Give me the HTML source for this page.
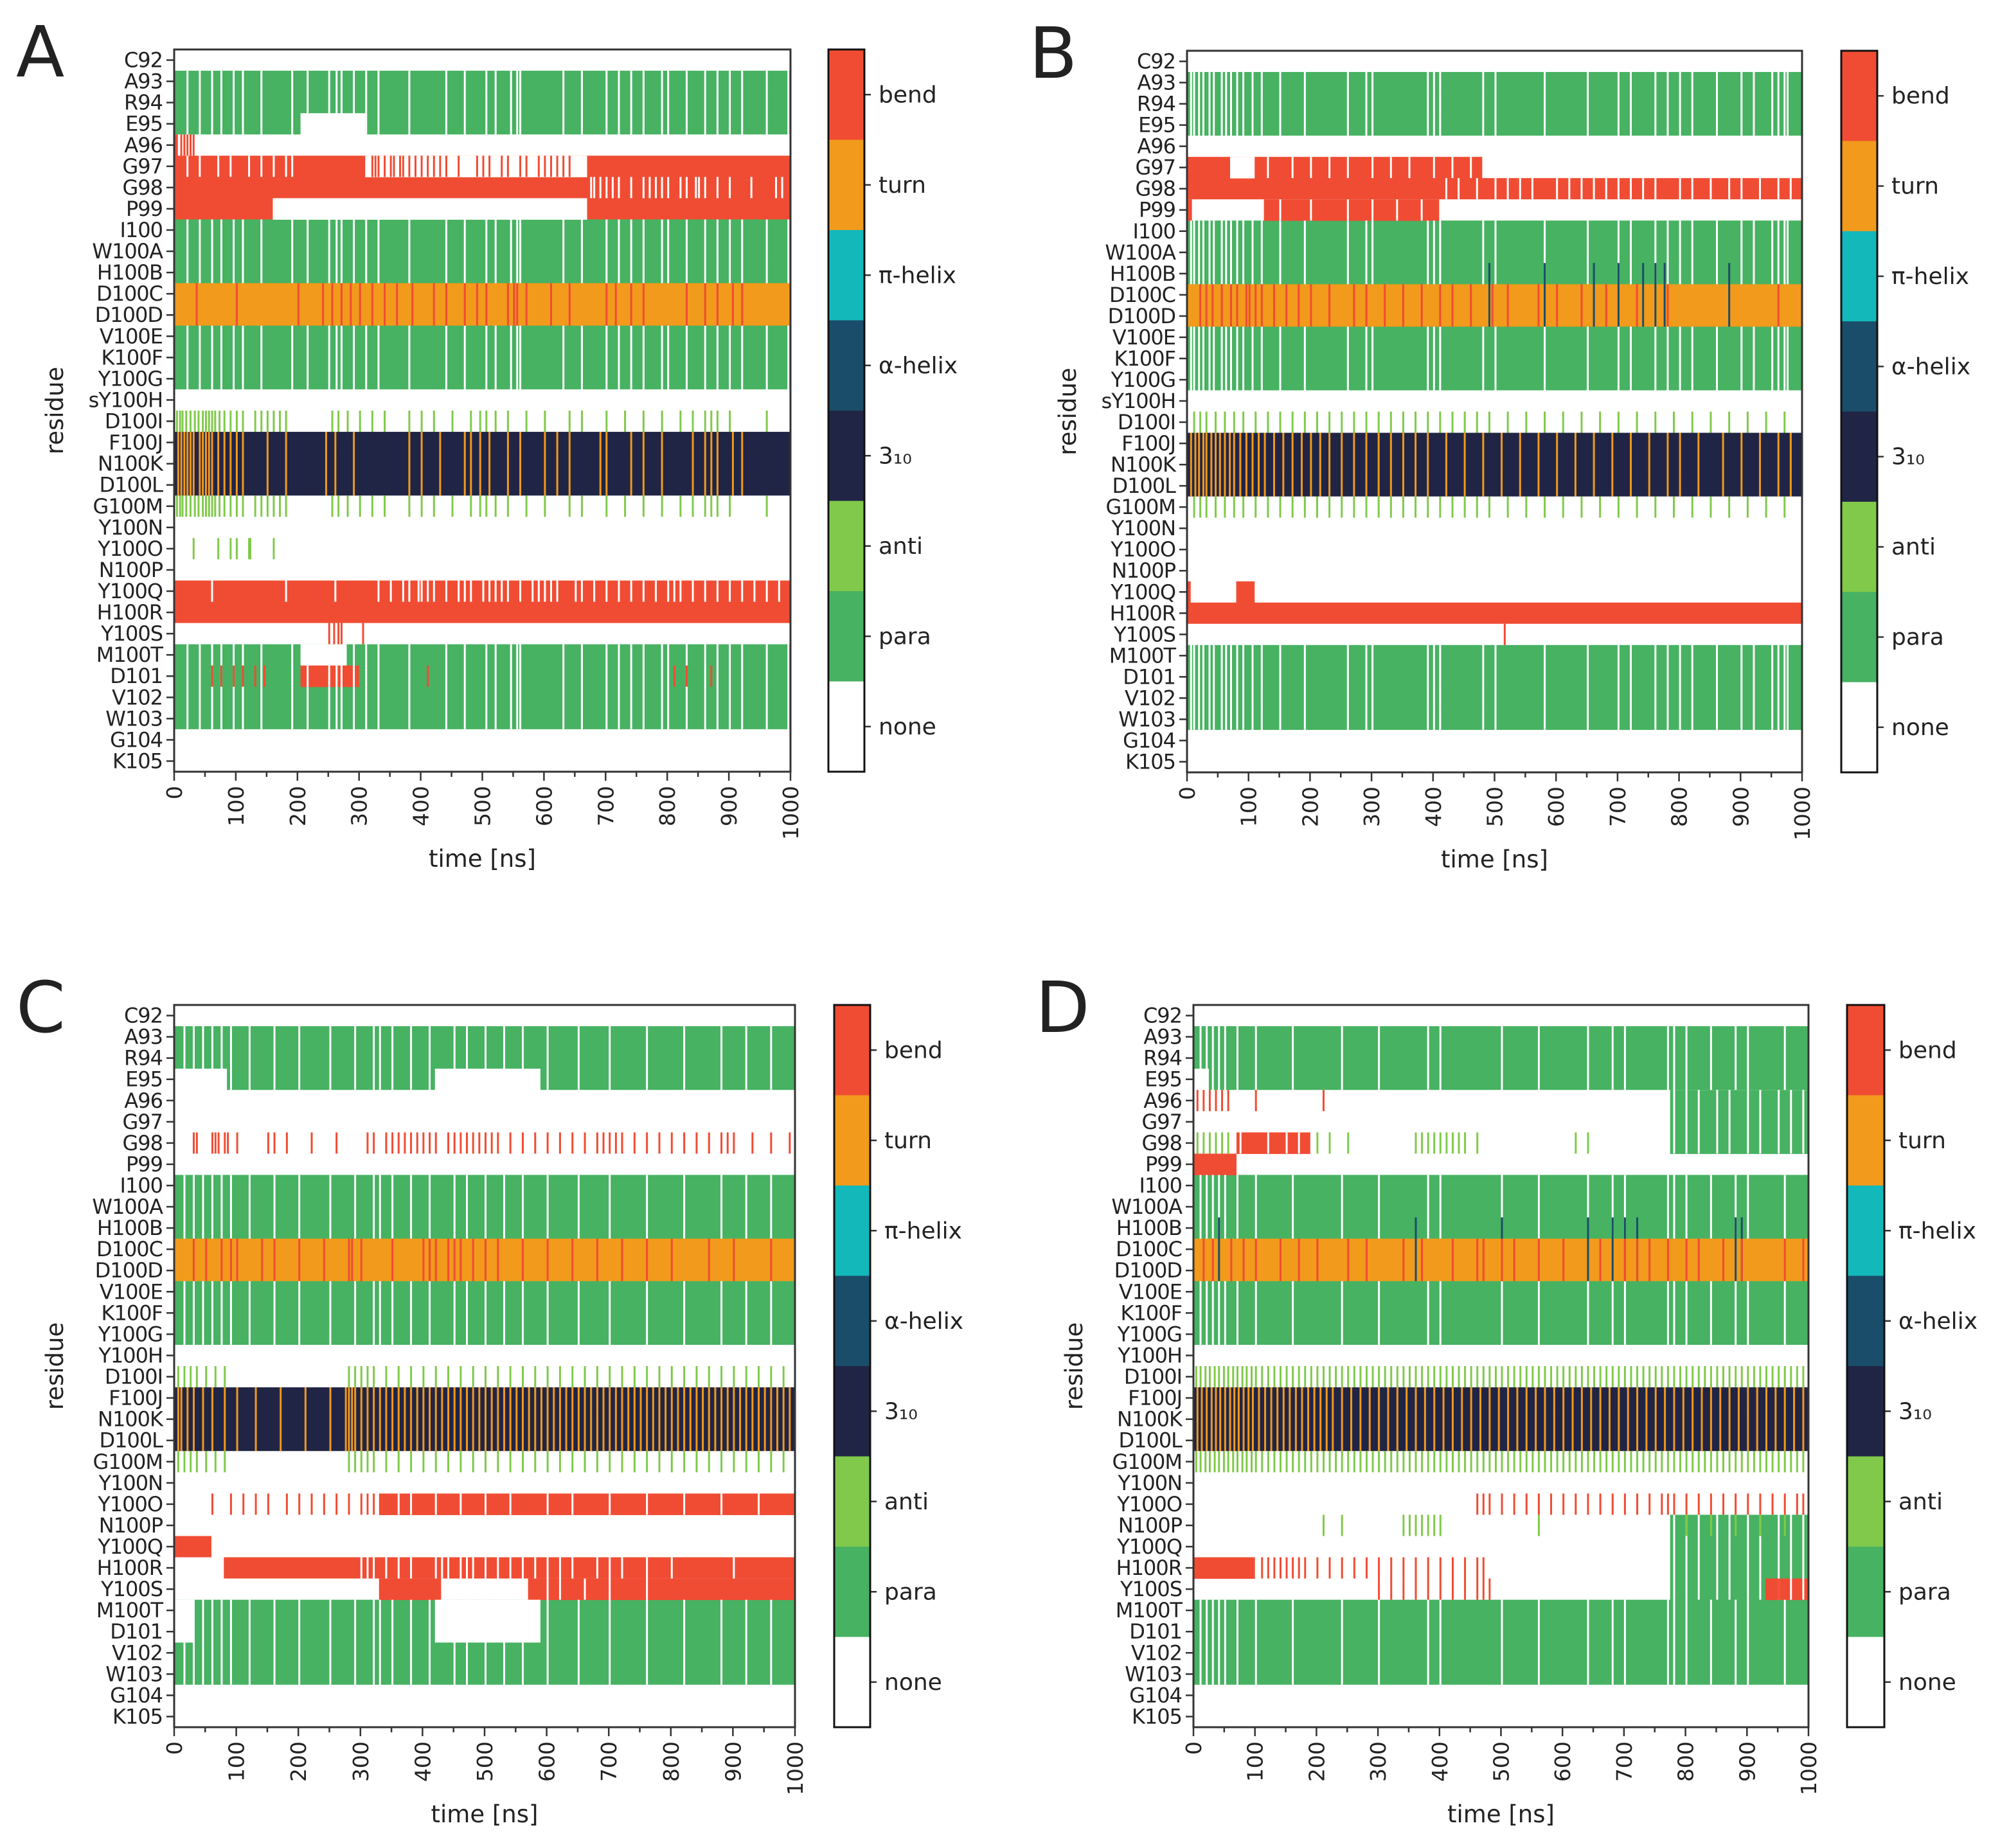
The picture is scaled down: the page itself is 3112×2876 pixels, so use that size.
<!DOCTYPE html>
<html><head><meta charset="utf-8"><style>
html,body{margin:0;padding:0;background:#fff;}
svg{display:block;font-family:"DejaVu Sans","Liberation Sans",sans-serif;}
</style></head><body>
<svg id="fig" width="3112" height="2876" viewBox="0 0 3112 2876" xmlns="http://www.w3.org/2000/svg"></svg>
<script>
// state codes: 0 none,1 para,2 anti,3 3_10,4 alpha,5 pi,6 turn,7 bend
const stateColors=["#ffffff","#47b262","#80c94a","#212545","#1a4d69","#13b8bb","#f19a1c","#f04c33"];
const legendLabels=["bend","turn","\u03c0-helix","\u03b1-helix","3\u2081\u2080","anti","para","none"];
const xTicks=[0,100,200,300,400,500,600,700,800,900,1000];
const residuesAB=["C92","A93","R94","E95","A96","G97","G98","P99","I100","W100A","H100B","D100C","D100D","V100E","K100F","Y100G","sY100H","D100I","F100J","N100K","D100L","G100M","Y100N","Y100O","N100P","Y100Q","H100R","Y100S","M100T","D101","V102","W103","G104","K105"];
const residuesCD=["C92","A93","R94","E95","A96","G97","G98","P99","I100","W100A","H100B","D100C","D100D","V100E","K100F","Y100G","Y100H","D100I","F100J","N100K","D100L","G100M","Y100N","Y100O","N100P","Y100Q","H100R","Y100S","M100T","D101","V102","W103","G104","K105"];

// ---- Panel A ----
const A_base=[0,1,1,1,0,7,7,7,1,1,1,6,6,1,1,1,0,0,3,3,3,0,0,0,0,7,7,0,1,1,1,1,0,0];
const A_blocks=[[3,3,205,310,0],[5,5,310,670,0],[6,6,670,1000,7],[7,7,160,670,0],[28,28,205,280,0],[29,29,205,300,7],[4,4,0,6,7]];
const A_paraWhite=[20,40,60,75,95,110,140,190,215,250,262,270,290,310,330,380,440,470,505,520,545,555,560,630,660,700,720,740,760,790,800,830,860,880,900,920,960,995];
const A_turnRed=[35,100,200,240,255,270,285,300,320,340,360,385,420,440,470,490,505,540,550,555,570,610,640,700,715,740,760,830,860,880,905,920];
const A_helixTurn=[5,10,15,20,25,30,40,45,50,55,60,70,80,90,100,110,150,180,245,260,290,380,400,430,470,480,495,510,540,560,600,620,640,690,700,740,760,790,840,860,870,880,905,920];
const A_anti=[3,8,12,18,25,32,38,45,50,55,60,65,72,80,90,100,110,130,140,150,160,170,180,255,265,280,300,320,340,380,400,420,450,480,495,505,520,540,570,600,640,660,700,730,760,790,820,840,860,870,880,900,960];
const A_g97Red=[320,325,330,340,350,355,365,370,380,390,400,410,420,430,440,460,490,500,510,530,540,560,570,590,600,610,620,630,640];
const A_g97White=[20,40,70,90,120,140,160,180,190];
const A_g98White=[675,680,690,700,710,720,740,760,770,780,790,800,820,830,845,850,860,880,900,935,975,985];
const A_qWhite=[60,180,260,330,350,370,380,395,400,410,420,440,460,470,480,500,510,520,530,540,560,580,590,600,610,620,650,660,680,700,720,740,760,780,800,810,820,840,860,880,900,920,940,960,980];
const A_a96Red=[10,15,20,25,30];
const A_d101Red=[60,75,95,110,130,145,410,810,830,870];
const A_sRed=[250,258,265,270,305];
const A_oAnti=[30,70,90,100,120,122,160];
const A_stripes=[[1,3,0,A_paraWhite],[8,10,0,A_paraWhite],[13,15,0,A_paraWhite],[28,31,0,A_paraWhite],[11,12,7,A_turnRed],[18,20,6,A_helixTurn],[17,17,2,A_anti],[21,21,2,A_anti],[5,5,7,A_g97Red],[5,5,0,A_g97White],[6,6,0,A_g98White],[25,25,0,A_qWhite],[4,4,7,A_a96Red],[29,29,7,A_d101Red],[27,27,7,A_sRed],[23,23,2,A_oAnti]];

// ---- Panel B ----
const B_base=[0,1,1,1,0,0,7,0,1,1,1,6,6,1,1,1,0,0,3,3,3,0,0,0,0,0,7,0,1,1,1,1,0,0];
const B_blocks=[[5,5,0,480,7],[5,5,70,110,0],[7,7,0,8,7],[7,7,125,410,7],[25,25,80,110,7],[25,25,0,6,7]];
const B_paraWhite=[5,10,18,25,35,42,55,62,70,80,90,105,120,150,190,260,290,300,390,400,410,480,500,580,650,700,720,760,780,800,820,860,900,920,950,960,970,975];
const B_alpha=[490,580,660,700,740,760,775,880];
const B_turnRed=[20,30,40,55,70,80,95,100,110,120,140,160,180,200,230,270,290,320,350,380,410,430,460,495,520,570,600,640,680,730,780,960];
const B_helixTurn=[5,12,18,25,30,38,45,52,60,68,75,85,95,105,115,125,140,155,170,185,200,215,230,250,270,290,310,330,350,370,390,420,450,480,510,540,570,600,630,660,690,720,750,780,800,830,870,900,930,960,980];
const B_anti=[10,20,30,45,60,75,90,110,130,150,170,190,210,230,250,270,290,310,330,350,370,390,410,430,450,470,490,520,550,580,610,640,670,700,730,760,790,820,850,880,910,940,970];
const B_g97White=[130,170,200,230,260,300,330,360,400,430,460];
const B_g98White=[420,440,470,500,520,540,560,600,620,640,660,680,700,720,740,760,800,820,850,880,900,930,960,980];
const B_p99White=[150,200,260,300,340,380];
const B_hRedGap=[515];
const B_stripes=[[1,3,0,B_paraWhite],[8,10,0,B_paraWhite],[13,15,0,B_paraWhite],[28,31,0,B_paraWhite],[10,12,4,B_alpha],[11,12,7,B_turnRed],[18,20,6,B_helixTurn],[17,17,2,B_anti],[21,21,2,B_anti],[5,5,0,B_g97White],[6,6,0,B_g98White],[7,7,0,B_p99White],[27,27,7,B_hRedGap]];

// ---- Panel C ----
const C_base=[0,1,1,1,0,0,0,0,1,1,1,6,6,1,1,1,0,0,3,3,3,0,0,0,0,0,7,0,1,1,1,1,0,0];
const C_blocks=[[3,3,0,85,0],[3,3,420,590,0],[23,23,330,1000,7],[25,25,0,60,7],[26,26,0,80,0],[27,27,330,430,7],[27,27,570,1000,7],[28,29,420,590,0],[28,29,0,30,0]];
const C_paraWhite=[15,30,45,60,75,90,120,160,200,250,290,320,330,350,380,410,450,470,500,530,560,600,650,700,760,820,880,920,960];
const C_turnRed=[30,50,75,90,100,140,160,200,240,280,285,300,350,400,410,420,440,450,460,480,500,520,560,600,640,680,720,760,800,860,900,960];
const C_helixTurn=[5,10,20,30,45,60,80,100,130,170,210,250,275,280,285,290,300,310,320,330,340,350,360,370,380,390,400,410,420,430,440,450,460,470,480,490,500,510,520,530,540,550,560,570,580,590,600,610,620,630,640,650,660,670,680,690,700,710,720,730,740,750,760,770,780,790,800,810,820,830,840,850,860,870,880,890,900,910,920,930,940,950,960,970,980,990];
const C_anti=[5,15,25,35,50,65,80,280,290,300,310,320,340,360,380,400,420,440,460,480,500,520,540,560,580,600,620,640,660,680,700,720,740,760,780,800,820,840,860,880,900,920,940,960,980];
const C_g98Red=[30,35,60,65,70,80,85,100,150,160,180,220,260,310,320,340,350,360,370,380,390,400,410,420,440,450,460,470,480,490,500,510,520,540,560,580,600,620,640,660,680,690,700,710,720,740,760,780,800,820,840,860,880,890,900,930,960,990];
const C_hWhite=[300,310,320,340,360,380,420,430,440,460,470,480,500,520,540,560,580,600,620,640,680,700,720,760,800,900];
const C_oWhite=[360,380,420,460,500,540,600,640,700,760,820,880,940];
const C_oRed=[60,90,110,130,150,180,200,220,240,260,280,300,310,320];
const C_sWhite=[600,620,660,700,760];
const C_stripes=[[1,3,0,C_paraWhite],[8,10,0,C_paraWhite],[13,15,0,C_paraWhite],[28,31,0,C_paraWhite],[11,12,7,C_turnRed],[18,20,6,C_helixTurn],[17,17,2,C_anti],[21,21,2,C_anti],[6,6,7,C_g98Red],[26,26,0,C_hWhite],[23,23,0,C_oWhite],[23,23,7,C_oRed],[27,27,0,C_sWhite]];

// ---- Panel D ----
const D_base=[0,1,1,1,0,0,0,0,1,1,1,6,6,1,1,1,0,0,3,3,3,0,0,0,0,0,0,0,1,1,1,1,0,0];
const D_blocks=[[3,3,0,25,0],[7,7,0,70,7],[6,6,70,190,7],[26,26,0,100,7],[4,6,775,1000,1],[24,27,775,1000,1],[27,27,930,1000,7]];
const D_paraWhite=[10,20,30,40,50,70,100,160,240,300,380,400,500,560,640,680,700,770,780,800,840,880,900,960];
const D_alpha=[40,360,500,640,680,700,720,880,890];
const D_turnRed=[15,30,60,80,100,140,170,200,250,280,340,370,420,460,470,500,520,560,600,660,700,720,740,770,800,820,860,890,960,990];
const D_helixTurn=[5,12,20,28,35,42,50,58,65,72,80,88,95,105,115,125,135,145,155,165,175,185,195,205,215,225,240,255,270,285,300,315,330,345,360,375,390,405,420,435,450,465,480,495,510,525,540,555,570,585,600,615,630,645,660,675,690,705,720,735,750,765,780,795,810,825,840,855,870,885,900,915,930,945,960,975,990];
const D_anti=[3,10,18,25,33,40,48,55,63,70,78,85,93,100,110,120,130,140,150,160,170,180,190,200,210,220,230,240,250,260,270,280,290,300,310,320,330,340,350,360,370,380,390,400,410,420,430,440,450,460,470,480,490,500,510,520,530,540,550,560,570,580,590,600,610,620,630,640,650,660,670,680,690,700,710,720,730,740,750,760,770,780,790,800,810,820,830,840,850,860,870,880,890,900,910,920,930,940,950,960,970,980,990];
const D_a96Red=[5,15,25,35,45,55,100,210];
const D_g98Stripe=[5,15,25,35,45,55,200,220,250,360,370,380,390,400,410,420,430,440,460,620,640];
const D_g98White=[75,120,150,170];
const D_topWhite=[780,800,820,850,870,900,920,950,970,990];
const D_hRed=[110,120,130,140,150,160,170,180,200,220,240,260,280,300,320,340,360,380,400,420,440,460,470];
const D_sRed=[300,320,340,360,380,400,420,440,460,470,480,940,950,960,980];
const D_oRed=[460,470,480,500,520,540,560,580,600,620,640,660,680,700,720,740,760,770,780,800,820,840,860,880,900,920,940,960,980,990];
const D_pAnti=[210,240,340,350,360,370,380,390,400,560,800,840,880,920,960];
const D_stripes=[[1,3,0,D_paraWhite],[8,10,0,D_paraWhite],[13,15,0,D_paraWhite],[28,31,0,D_paraWhite],[10,12,4,D_alpha],[11,12,7,D_turnRed],[18,20,6,D_helixTurn],[17,17,2,D_anti],[21,21,2,D_anti],[4,4,7,D_a96Red],[6,6,2,D_g98Stripe],[6,6,0,D_g98White],[4,6,0,D_topWhite],[24,27,0,D_topWhite],[26,26,7,D_hRed],[27,27,7,D_sRed],[23,23,7,D_oRed],[24,24,2,D_pAnti]];

const NS="http://www.w3.org/2000/svg";
const svg=document.getElementById("fig");
function mk(tag,attrs,parent){const e=document.createElementNS(NS,tag);for(const k in attrs)e.setAttribute(k,attrs[k]);(parent||svg).appendChild(e);return e;}

function drawPanel(letter,residues,base,blocks,stripes,L){
  const g=mk("g",{});
  
  
  const nR=residues.length;
  const rh=(L.y1-L.y0)/nR;
  const xs=t=>L.x0+(t/1000)*(L.x1-L.x0);
  const ys=r=>L.y0+r*rh;
  const sw=3;
  base.forEach((s,r)=>{
    const e=mk("rect",{x:L.x0,y:ys(r),width:L.x1-L.x0,height:rh+0.5,fill:stateColors[s]},g);
    
    
  });
  blocks.forEach(b=>{
    const e=mk("rect",{x:xs(b[2]),y:ys(b[0]),width:xs(b[3])-xs(b[2]),height:(b[1]-b[0]+1)*rh+0.5,fill:stateColors[b[4]]},g);
    
    
  });
  stripes.forEach(st=>{
    st[3].forEach(t=>{
      const e=mk("rect",{x:xs(t),y:ys(st[0]),width:sw,height:(st[1]-st[0]+1)*rh,fill:stateColors[st[2]]},g);
      
      
    });
  });
  const fr=mk("rect",{x:L.x0,y:L.y0,width:L.x1-L.x0,height:L.y1-L.y0,fill:"none",stroke:"#333",'stroke-width':3},g);
  
  
  residues.forEach((name,r)=>{
    const y=ys(r)+rh/2;
    mk("line",{x1:L.x0-12,x2:L.x0,y1:y,y2:y,stroke:"#333",'stroke-width':2.5},g);
    const t=mk("text",{x:L.x0-18,y:y+11,'text-anchor':"end",'font-size':32,fill:"#222",'letter-spacing':-1},g);
    t.textContent=name;
    
    
  });
  for(let v=0;v<=1000;v+=50){
    const x=xs(v);const major=v%100===0;
    mk("line",{x1:x,x2:x,y1:L.y1,y2:L.y1+(major?14:8),stroke:"#333",'stroke-width':2.5},g);
  }
  xTicks.forEach(v=>{
    const x=xs(v);
    const t=mk("text",{x:0,y:0,'text-anchor':"end",'font-size':33,fill:"#222",transform:`translate(${x+12},${L.y1+22}) rotate(-90)`},g);
    t.textContent=v;
    
    
  });
  const xl=mk("text",{x:(L.x0+L.x1)/2,y:L.y1+148,'text-anchor':"middle",'font-size':37,fill:"#222"},g);
  xl.textContent="time [ns]";
  
  
  const cy=(L.y0+L.y1)/2;
  const yl=mk("text",{x:0,y:0,'text-anchor':"middle",'font-size':37,fill:"#222",transform:`translate(${L.x0-173},${cy}) rotate(-90)`},g);
  yl.textContent="residue";
  
  
  const pl=mk("text",{x:L.x0-246,y:L.y0+42,'font-size':110,fill:"#222"},g);
  pl.textContent=letter;
  
  
  const segH=(L.y1-L.y0)/8;
  const order=[7,6,5,4,3,2,1,0];
  order.forEach((s,i)=>{
    const e=mk("rect",{x:L.c0,y:L.y0+i*segH,width:L.c1-L.c0,height:segH+0.5,fill:stateColors[s]},g);
    
    
    const y=L.y0+(i+0.5)*segH;
    mk("line",{x1:L.c1,x2:L.c1+10,y1:y,y2:y,stroke:"#333",'stroke-width':2.5},g);
    const t=mk("text",{x:L.c1+22,y:y+12,'font-size':36,fill:"#222"},g);
    t.textContent=legendLabels[i];
    
    
  });
  const cf=mk("rect",{x:L.c0,y:L.y0,width:L.c1-L.c0,height:L.y1-L.y0,fill:"none",stroke:"#111",'stroke-width':3},g);
  
  
}
drawPanel("A",residuesAB,A_base,A_blocks,A_stripes,{x0:271,x1:1230,y0:77,y1:1201,c0:1289,c1:1345});
drawPanel("B",residuesAB,B_base,B_blocks,B_stripes,{x0:1847,x1:2804,y0:79,y1:1202,c0:2865,c1:2921});
drawPanel("C",residuesCD,C_base,C_blocks,C_stripes,{x0:271,x1:1237,y0:1564,y1:2688,c0:1298,c1:1354});
drawPanel("D",residuesCD,D_base,D_blocks,D_stripes,{x0:1857,x1:2814,y0:1564,y1:2688,c0:2874,c1:2932});
</script>
</body></html>
